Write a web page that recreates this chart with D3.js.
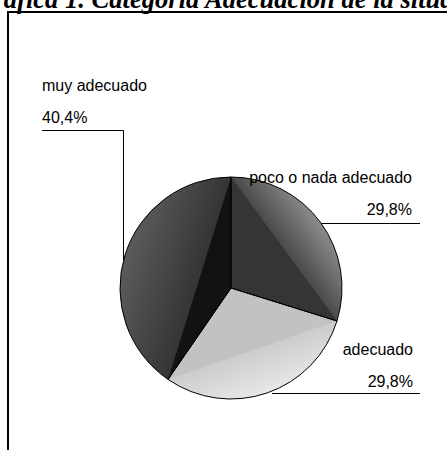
<!DOCTYPE html>
<html><head><meta charset="utf-8">
<script src="https://cdn.jsdelivr.net/npm/d3@7"></script>
<style>body{margin:0;background:#fff}svg{display:block}</style>
</head><body>
<svg id="c" width="447" height="450"></svg>
<script>
const categories = ["poco o nada adecuado", "adecuado", "muy adecuado"];
const values = [29.8, 29.8, 40.4];
const valueLabels = ["29,8%", "29,8%", "40,4%"];
const title = "Gráfica 1. Categoría Adecuación de la situación";

const innerColors = ["#353535", "#c2c2c2", "#121212"];
const outerColors = [["#4c4c4c", "#8a8a8a"], ["#cdcdcd", "#e6e6e6"], ["#363636", "#5a5a5a"]];

const svg = d3.select("#c");
const cx = 231, cy = 288, r = 111;

// title: fit so that "Categoría" starts at x=85 and "situación" at x=394 (as in the cropped reference)
const tFont = "Liberation Serif";
function measure(str, size) {
  const t = svg.append("text").attr("font-family", tFont).attr("font-weight", "bold")
    .attr("font-style", "italic").attr("font-size", size).text(str);
  const w = t.node().getComputedTextLength(); t.remove(); return w;
}
const base = 20;
const preCat = measure("Gráfica 1. ", base);
const preSit = measure("Gráfica 1. Categoría Adecuación de la ", base);
const tSize = base * (394 - 85) / (preSit - preCat);
const tX = 85 - preCat * tSize / base;
svg.append("text").attr("x", tX).attr("y", 7.5)
  .attr("font-family", tFont).attr("font-weight", "bold").attr("font-style", "italic")
  .attr("font-size", tSize).attr("fill", "#000").text(title);

svg.append("line").attr("x1", 7).attr("x2", 447).attr("y1", 12).attr("y2", 12).attr("stroke", "#000").attr("stroke-width", 2);
svg.append("line").attr("x1", 8).attr("x2", 8).attr("y1", 11).attr("y2", 450).attr("stroke", "#000").attr("stroke-width", 2);

const pie = d3.pie().sort(null).value(d => d)(values);
const arc = d3.arc().innerRadius(0).outerRadius(r);
const defs = svg.append("defs");
const g = svg.append("g").attr("transform", `translate(${cx},${cy})`);

const pt = a => [r * Math.sin(a), -r * Math.cos(a)];

pie.forEach((p, i) => {
  const a0 = p.startAngle, a1 = p.endAngle, am = (a0 + a1) / 2;
  const p0 = pt(a0), p1 = pt(a1);
  const mid = [(p0[0] + p1[0]) / 2, (p0[1] + p1[1]) / 2];
  const far = pt(am);
  const grad = defs.append("linearGradient").attr("id", "gr" + i)
    .attr("gradientUnits", "userSpaceOnUse")
    .attr("x1", mid[0]).attr("y1", mid[1]).attr("x2", far[0]).attr("y2", far[1]);
  const n = 18;
  const ci = d3.interpolateRgb(outerColors[i][0], outerColors[i][1]);
  for (let k = 0; k < n; k++) {
    const c = ci(k / (n - 1));
    grad.append("stop").attr("offset", k / n).attr("stop-color", c);
    grad.append("stop").attr("offset", (k + 1) / n).attr("stop-color", c);
  }
  g.append("path").attr("d", arc(p)).attr("fill", `url(#gr${i})`);
  g.append("path").attr("d", `M0,0L${p0[0]},${p0[1]}L${p1[0]},${p1[1]}Z`).attr("fill", innerColors[i]);
});
pie.forEach(p => {
  g.append("path").attr("d", arc(p)).attr("fill", "none").attr("stroke", "#000").attr("stroke-width", 1);
});

// labels
const font = "Liberation Sans";
const lab = [
  {name: [412, 183], val: [412, 215], anchor: "end"},
  {name: [413, 355], val: [413, 387], anchor: "end"},
  {name: [42, 91], val: [42, 123], anchor: "start"}
];
lab.forEach((l, i) => {
  svg.append("text").attr("x", l.name[0]).attr("y", l.name[1]).attr("text-anchor", l.anchor)
    .attr("font-family", font).attr("font-size", 16).attr("fill", "#000").text(categories[i]);
  svg.append("text").attr("x", l.val[0]).attr("y", l.val[1]).attr("text-anchor", l.anchor)
    .attr("font-family", font).attr("font-size", 16).attr("fill", "#000").text(valueLabels[i]);
});

// leader lines
const lk = d3.line();
const yAt = (x, sign) => cy + sign * Math.sqrt(r * r - (x - cx) * (x - cx));
const xAt = (y, sign) => cx + sign * Math.sqrt(r * r - (y - cy) * (y - cy));
svg.append("path").attr("d", lk([[42, 130.5], [123.5, 130.5], [123.5, yAt(123.5, -1)]])).attr("fill", "none").attr("stroke", "#000");
svg.append("path").attr("d", lk([[xAt(223.5, 1), 223.5], [420, 223.5]])).attr("fill", "none").attr("stroke", "#000");
svg.append("path").attr("d", lk([[272, 393.5], [420, 393.5]])).attr("fill", "none").attr("stroke", "#000");
</script>
</body></html>
